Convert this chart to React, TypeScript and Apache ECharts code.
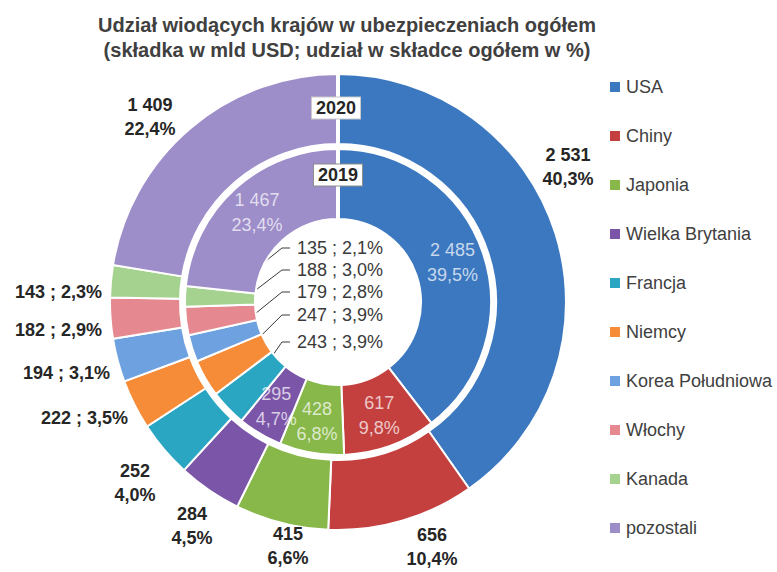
import React, { useEffect, useRef } from 'react';
import * as echarts from 'echarts';

// ---------- data ----------
const countries = ['USA', 'Chiny', 'Japonia', 'Wielka Brytania', 'Francja', 'Niemcy', 'Korea Południowa', 'Włochy', 'Kanada', 'pozostali'];
const premium2020 = [2531, 656, 415, 284, 252, 222, 194, 182, 143, 1409];
const share2020 = [40.3, 10.4, 6.6, 4.5, 4.0, 3.5, 3.1, 2.9, 2.3, 22.4];
const premium2019 = [2485, 617, 428, 295, 243, 247, 179, 188, 135, 1467];
const share2019 = [39.5, 9.8, 6.8, 4.7, 3.9, 3.9, 2.8, 3.0, 2.1, 23.4];
const yearLabels = ['2020', '2019'];
const titleLines = ['Udział wiodących krajów w ubezpieczeniach ogółem', '(składka w mld USD; udział w składce ogółem w %)'];

// ---------- styling ----------
const colors = ['#3C78C0', '#C3403F', '#88B84A', '#7B55A8', '#2BA6C2', '#F68B38', '#6EA1E0', '#E58890', '#A6D28F', '#9D8DC9'];
const FONT = 'Liberation Sans';
const CX = 338;
const CY = 302;
const R_OUT = [158, 228];
const R_IN = [83, 153];

// outer label anchors relative to the centre: [dx, dy, align, oneLine]
const outerLabelPlace: [number, number, string, boolean][] = [
  [230, -135, 'center', false],
  [94, 245, 'center', false],
  [-50, 244, 'center', false],
  [-146, 224, 'center', false],
  [-203, 181, 'center', false],
  [-210, 116, 'right', true],
  [-228, 71, 'right', true],
  [-236, 28, 'right', true],
  [-236, -10, 'right', true],
  [-188, -185, 'center', false],
];
// inner labels placed in the hole: dataIndex -> dy from centre
const holeLabelDy: Record<number, number> = { 8: -54, 7: -32, 6: -10, 5: 13, 4: 40 };

const fmtNum = (v: number) =>
  v >= 1000 ? `${Math.floor(v / 1000)} ${String(v % 1000).padStart(3, '0')}` : String(v);
const fmtPct = (p: number) => p.toFixed(1).replace('.', ',') + '%';

export default function App() {
  const ref = useRef<HTMLDivElement>(null);

  useEffect(() => {
    if (!ref.current) return;
    const chart = echarts.init(ref.current, undefined, { renderer: 'svg' });

    const total2019 = premium2019.reduce((a, b) => a + b, 0);
    const midAngleAnchor = (idx: number, r: number) => {
      let cum = 0;
      for (let i = 0; i < idx; i++) cum += premium2019[i];
      const frac = (cum + premium2019[idx] / 2) / total2019;
      const a = Math.PI / 2 - frac * Math.PI * 2;
      return [CX + r * Math.cos(a), CY - r * Math.sin(a)];
    };

    const option: any = {
      animation: false,
      color: colors,
      title: {
        text: titleLines.join('\n'),
        left: 342,
        top: 7,
        textAlign: 'center',
        textStyle: { fontSize: 20, fontWeight: 'bold', color: '#404040', lineHeight: 25, fontFamily: FONT },
      },
      legend: {
        orient: 'vertical',
        left: 608,
        top: 77,
        padding: 0,
        itemWidth: 12,
        itemHeight: 12,
        itemGap: 29,
        icon: 'rect',
        textStyle: { fontSize: 18, lineHeight: 20, color: '#404040', fontFamily: FONT },
        data: countries,
      },
      graphic: [
        {
          type: 'line',
          z: 50,
          shape: { x1: CX, y1: CY - R_IN[0] + 1, x2: CX, y2: CY - R_OUT[1] - 1 },
          style: { stroke: '#ffffff', lineWidth: 4 },
        },
        {
          type: 'text',
          z: 60,
          x: CX - 2,
          y: CY - 194,
          style: {
            text: yearLabels[0],
            fontSize: 18,
            fontWeight: 'bold',
            fontFamily: FONT,
            fill: '#262626',
            align: 'center',
            verticalAlign: 'middle',
            backgroundColor: '#ffffff',
            borderColor: '#c8c8c8',
            borderWidth: 1,
            padding: [2, 4, 1, 4],
          },
        },
        {
          type: 'text',
          z: 60,
          x: CX,
          y: CY - 127,
          style: {
            text: yearLabels[1],
            fontSize: 18,
            fontWeight: 'bold',
            fontFamily: FONT,
            fill: '#262626',
            align: 'center',
            verticalAlign: 'middle',
            backgroundColor: '#ffffff',
            borderColor: '#8c8c8c',
            borderWidth: 1,
            padding: [2, 4, 1, 4],
          },
        },
      ],
      series: [
        {
          type: 'pie',
          name: '2020',
          center: [CX, CY],
          radius: R_OUT,
          startAngle: 90,
          clockwise: true,
          avoidLabelOverlap: false,
          emphasis: { disabled: true },
          itemStyle: { borderColor: '#ffffff', borderWidth: 2 },
          label: {
            show: true,
            position: 'outside',
            fontSize: 18,
            fontWeight: 'bold',
            lineHeight: 24,
            color: '#262626',
            fontFamily: FONT,
            formatter: (p: any) => {
              const i = p.dataIndex;
              const n = fmtNum(premium2020[i]);
              const s = fmtPct(share2020[i]);
              return outerLabelPlace[i][3] ? `${n} ; ${s}` : `${n}\n${s}`;
            },
          },
          labelLine: { show: false },
          labelLayout: (p: any) => {
            const [dx, dy, align] = outerLabelPlace[p.dataIndex];
            return { x: CX + dx, y: CY + dy, align, verticalAlign: 'middle' };
          },
          data: countries.map((name, i) => ({ name, value: premium2020[i] })),
        },
        {
          type: 'pie',
          name: '2019',
          center: [CX, CY],
          radius: R_IN,
          startAngle: 90,
          clockwise: true,
          avoidLabelOverlap: false,
          emphasis: { disabled: true },
          itemStyle: { borderColor: '#ffffff', borderWidth: 2 },
          label: {
            show: true,
            position: 'inside',
            fontSize: 18,
            lineHeight: 25,
            color: 'rgba(255,255,255,0.72)',
            fontFamily: FONT,
            formatter: (p: any) => {
              const i = p.dataIndex;
              const n = fmtNum(premium2019[i]);
              const s = fmtPct(share2019[i]);
              return holeLabelDy[i] !== undefined ? `${n} ; ${s}` : `${n}\n${s}`;
            },
          },
          labelLine: { show: false },
          labelLayout: (p: any) => {
            const dy = holeLabelDy[p.dataIndex];
            if (dy === undefined) return {};
            const x = CX + 2;
            const y = CY + dy;
            const w = p.labelRect ? p.labelRect.width : 86;
            const left = x - w / 2;
            const rm = (R_IN[0] + R_IN[1]) / 2;
            let anchor: number[];
            const pts = p.labelLinePoints;
            if (pts && pts[0]) {
              const vx = pts[0][0] - CX;
              const vy = pts[0][1] - CY;
              const len = Math.hypot(vx, vy) || 1;
              anchor = [CX + (vx / len) * rm, CY + (vy / len) * rm];
            } else {
              anchor = midAngleAnchor(p.dataIndex, rm);
            }
            return {
              x,
              y,
              align: 'center',
              verticalAlign: 'middle',
              labelLinePoints: [anchor, [left - 15, y], [left - 7, y]],
            };
          },
          data: countries.map((name, i) => {
            const inHole = holeLabelDy[i] !== undefined;
            return {
              name,
              value: premium2019[i],
              label: inHole ? { position: 'outside', color: '#3a3a3a' } : { position: 'inside' },
              labelLine: inHole
                ? { show: true, length: 10, length2: 10, lineStyle: { color: '#3a3a3a', width: 1 } }
                : { show: false },
            };
          }),
        },
      ],
    };

    chart.setOption(option);
    return () => chart.dispose();
  }, []);

  return (
    <div
      ref={ref}
      style={{ position: 'fixed', left: 0, top: 0, width: 777, height: 572, background: '#ffffff' }}
    />
  );
}
